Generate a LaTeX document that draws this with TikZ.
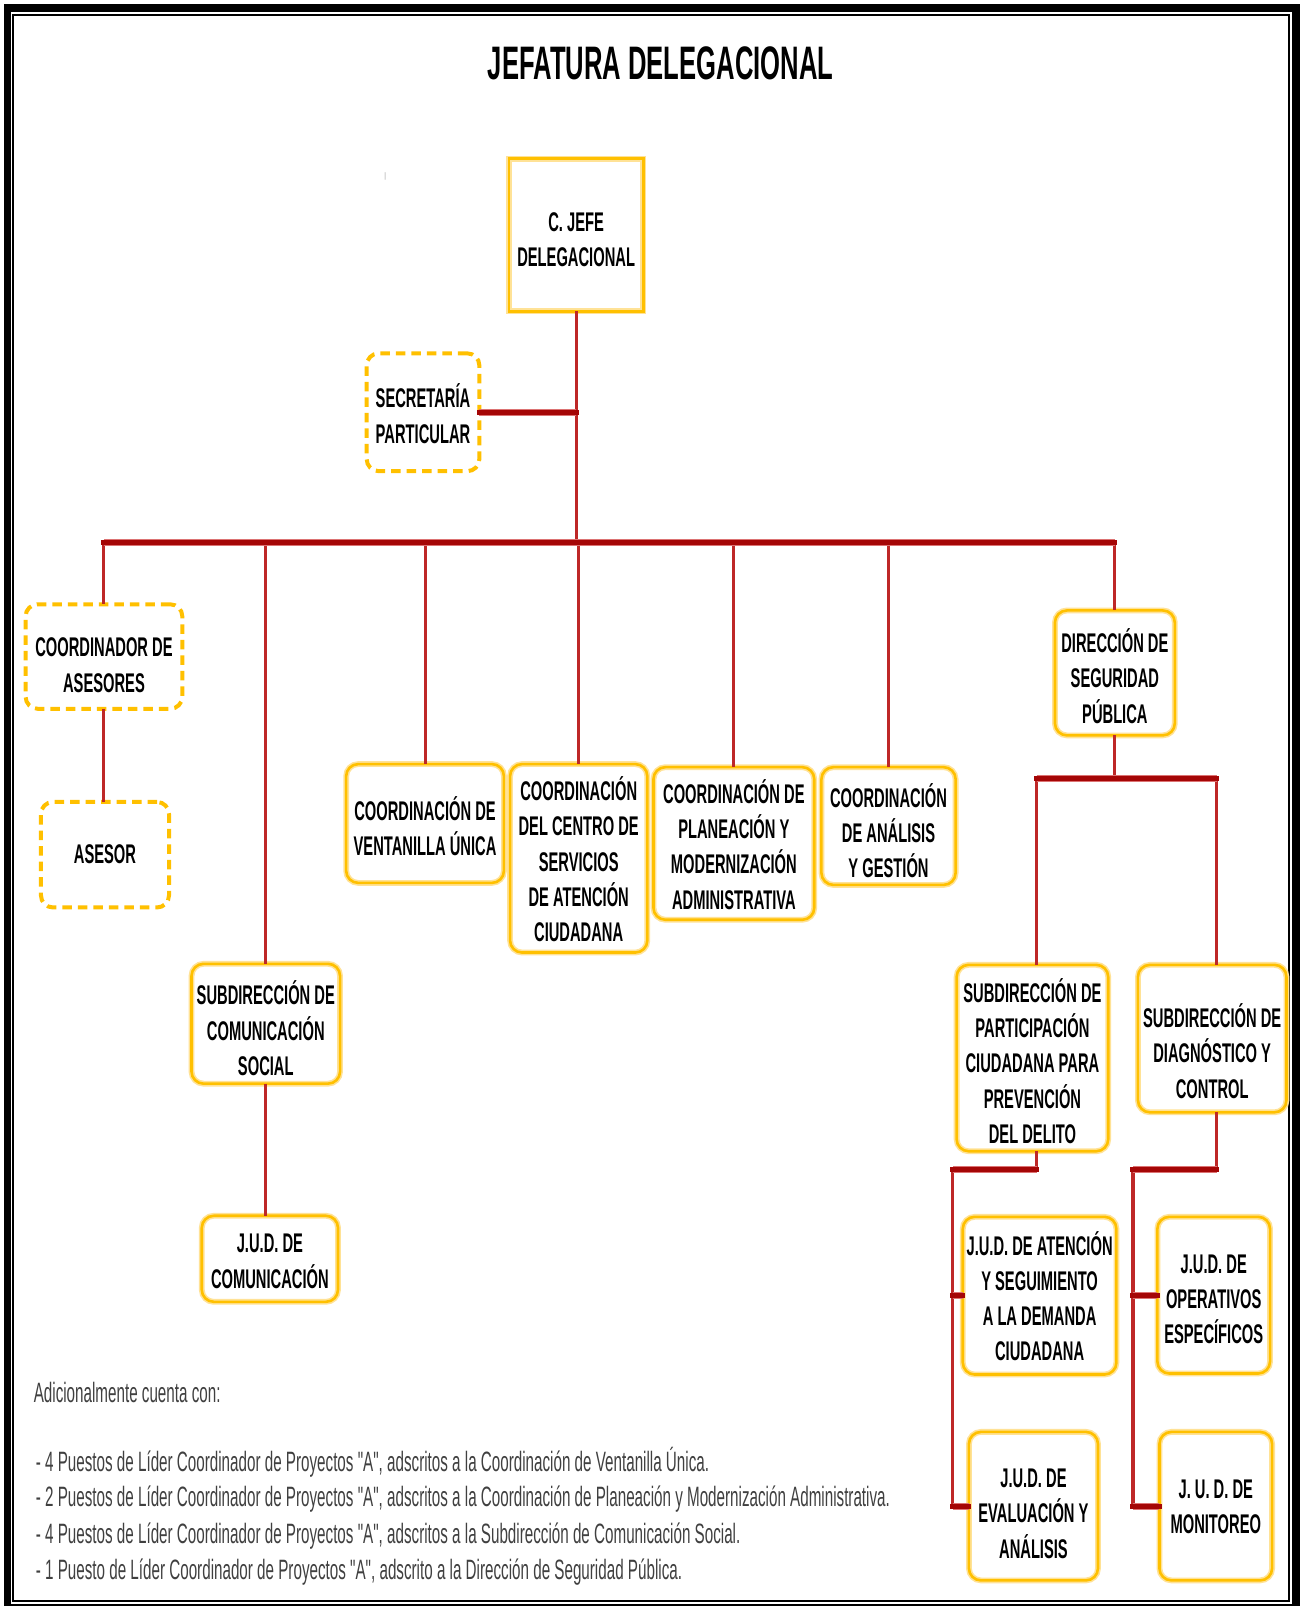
\documentclass[tikz,border=0pt]{standalone}
\usepackage{fontspec}
\usetikzlibrary{fit}
\newfontfamily\orgfont[FakeStretch=0.545]{Liberation Sans}
\newfontfamily\notefont[FakeStretch=0.543]{Liberation Sans}

\definecolor{gold}{RGB}{255,192,0}
\definecolor{goldhalo}{RGB}{255,226,150}
\definecolor{linkred}{RGB}{190,40,40}
\definecolor{busred}{RGB}{165,6,6}
\definecolor{bushalo}{RGB}{220,115,115}

% box frame fitted to two corners, text placed on its own line centre
% #1 style, #2 corner list, #3 name, #4 y of text centre, #5 text
\newcommand\orgbox[5]{%
  \node[#1, fit={#2}] (#3) {};
  \node[unitbox] (#3-text) at (#3.center |- 0,#4) {#5};}

\begin{document}
\begin{tikzpicture}[x=1.0243pt, y=-1.0243pt,
  every node/.style={inner sep=0pt, outer sep=0pt},
  unitbox/.style={font=\orgfont\bfseries\fontsize{27}{35.3}\selectfont, align=center, text=black},
  solidbox/.style={rounded corners=12pt, draw=gold, line width=2.6pt,
                   preaction={draw=goldhalo, line width=5.8pt}},
  squarebox/.style={draw=gold, line width=2.6pt,
                   preaction={draw=goldhalo, line width=5.8pt}},
  dashbox/.style={rounded corners=12pt, draw=gold, line width=4pt,
                  dash pattern=on 9.5pt off 6pt},
  link/.style={draw=linkred, line width=3pt},
  midlink/.style={draw=linkred, line width=3.6pt},
  trunk/.style={draw=busred, line width=5pt, line cap=rect,
                preaction={draw=bushalo, line width=7pt}},
  notes/.style={font=\notefont\fontsize{28}{30}\selectfont, text=black!75, anchor=west},
]
\useasboundingbox (0,0) rectangle (1275,1568);
\fill[white] (0,0) rectangle (1275,1568);

% double frame
\draw[line width=7.5pt] (7.3,7.8) rectangle (1265.3,1569.5);
\draw[line width=2pt] (12.7,14.6) rectangle (1258,1563);

% title
\node[font=\orgfont\bfseries\fontsize{47}{50}\selectfont] (title) at (645,62) {JEFATURA DELEGACIONAL};
\node[font=\notefont\fontsize{8}{8}\selectfont, text=black!60] (tick) at (376,172) {|};

% boxes
\orgbox{squarebox}{(497,155)(628,304)}{jefe}{234}{C. JEFE\\DELEGACIONAL}
\orgbox{dashbox}{(358,345)(468,460)}{sec}{404}{SECRETARÍA\\PARTICULAR}
\orgbox{dashbox}{(25,590)(178,692)}{coordAse}{649.5}{COORDINADOR DE\\ASESORES}
\orgbox{dashbox}{(40,783)(165,886)}{asesor}{834}{ASESOR}
\orgbox{solidbox}{(187,941)(332,1058)}{comsoc}{1004}{SUBDIRECCIÓN DE\\COMUNICACIÓN\\SOCIAL}
\orgbox{solidbox}{(197,1187)(330,1271)}{judcom}{1231.5}{J.U.D. DE\\COMUNICACIÓN}
\orgbox{solidbox}{(338,746)(492,862)}{vent}{806.5}{COORDINACIÓN DE\\VENTANILLA ÚNICA}
\orgbox{solidbox}{(498,746)(632,930)}{centro}{839}{COORDINACIÓN\\DEL CENTRO DE\\SERVICIOS\\DE ATENCIÓN\\CIUDADANA}
\orgbox{solidbox}{(638,749)(795,898)}{plan}{824.5}{COORDINACIÓN DE\\PLANEACIÓN Y\\MODERNIZACIÓN\\ADMINISTRATIVA}
\orgbox{solidbox}{(802,749)(933,864)}{anal}{811}{COORDINACIÓN\\DE ANÁLISIS\\Y GESTIÓN}
\orgbox{solidbox}{(1030,596)(1147,718)}{dir}{660}{DIRECCIÓN DE\\SEGURIDAD\\PÚBLICA}
\orgbox{solidbox}{(934,942)(1082,1124)}{partic}{1036}{SUBDIRECCIÓN DE\\PARTICIPACIÓN\\CIUDADANA PARA\\PREVENCIÓN\\DEL DELITO}
\orgbox{solidbox}{(1111,942)(1256,1086)}{diag}{1026}{SUBDIRECCIÓN DE\\DIAGNÓSTICO Y\\CONTROL}
\orgbox{solidbox}{(940,1188)(1090,1342)}{atenc}{1265.5}{J.U.D. DE ATENCIÓN\\Y SEGUIMIENTO\\A LA DEMANDA\\CIUDADANA}
\orgbox{solidbox}{(946,1398)(1072,1543)}{eval}{1478}{J.U.D. DE\\EVALUACIÓN Y\\ANÁLISIS}
\orgbox{solidbox}{(1130,1188)(1240,1341)}{oper}{1268.5}{J.U.D. DE\\OPERATIVOS\\ESPECÍFICOS}
\orgbox{solidbox}{(1132,1398)(1242,1543)}{monit}{1471.5}{J. U. D. DE\\MONITOREO}

% main bus
\coordinate (busL) at (coordAse.north |- 0,530);
\coordinate (busR) at (dir.north |- 0,530);
\draw[link] (jefe.south) -- (jefe.south |- busL);
\foreach \n in {coordAse, comsoc, vent, centro, plan, anal, dir}
  \draw[link] (\n.north |- busL) -- (\n.north);
\draw[trunk] (sec.east) -- (sec.east -| jefe.south);
\draw[trunk] (busL) -- (busR);

\draw[link] (coordAse.south) -- (coordAse.south |- asesor.north);
\draw[link] (comsoc.south) -- (comsoc.south |- judcom.north);

% seguridad publica branch
\coordinate (h2L) at (1012,760);
\coordinate (h2R) at (1188,760);
\draw[link] (dir.south) -- (dir.south |- h2L);
\draw[link] (h2L) -- (h2L |- partic.north);
\draw[link] (h2R) -- (h2R |- diag.north);
\draw[trunk] (h2L) -- (h2R);

\coordinate (pL) at (930,1142);
\draw[link] (h2L |- partic.south) -- (h2L |- pL);
\draw[midlink] (pL) -- (pL |- eval.west);
\draw[trunk] (h2L |- pL) -- (pL);
\draw[trunk] (pL |- atenc.west) -- (atenc.west);
\draw[trunk] (pL |- eval.west) -- (eval.west);

\coordinate (pR) at (1106,1142);
\draw[link] (h2R |- diag.south) -- (h2R |- pR);
\draw[midlink] (pR) -- (pR |- monit.west);
\draw[trunk] (h2R |- pR) -- (pR);
\draw[trunk] (pR |- oper.west) -- (oper.west);
\draw[trunk] (pR |- monit.west) -- (monit.west);

% notes
\node[notes] (addl) at (33,1360) {Adicionalmente cuenta con:};
\node[notes] (n1) at (35,1428) {- 4 Puestos de Líder Coordinador de Proyectos "A", adscritos a la Coordinación de Ventanilla Única.};
\node[notes] (n2) at (35,1464) {- 2 Puestos de Líder Coordinador de Proyectos "A", adscritos a la Coordinación de Planeación y Modernización Administrativa.};
\node[notes] (n3) at (35,1500) {- 4 Puestos de Líder Coordinador de Proyectos "A", adscritos a la Subdirección de Comunicación Social.};
\node[notes] (n4) at (35,1535) {- 1 Puesto de Líder Coordinador de Proyectos "A", adscrito a la Dirección de Seguridad Pública.};
\end{tikzpicture}
\end{document}
